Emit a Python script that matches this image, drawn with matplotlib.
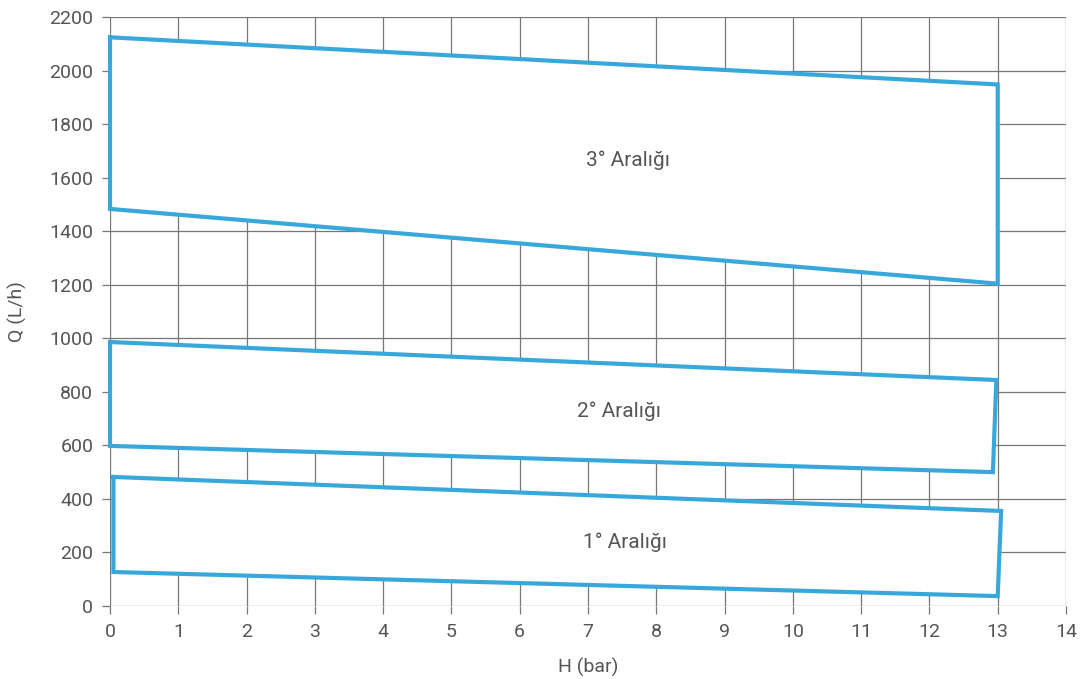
import numpy as np
import matplotlib.pyplot as plt

plt.rcParams['font.family'] = ['Roboto', 'DejaVu Sans']

# corner points of each range (H in bar, Q in L/h), clockwise from top-left
r1_h = [0.05, 13.05, 13.0, 0.05, 0.05]
r1_q = [482, 355, 37, 127, 482]
r2_h = [0.0, 12.98, 12.93, 0.0, 0.0]
r2_q = [986, 844, 500, 598, 986]
r3_h = [0.0, 13.0, 13.0, 0.0, 0.0]
r3_q = [2124, 1948, 1204, 1483, 2124]

labels = ['1° Aralığı', '2° Aralığı', '3° Aralığı']
label_pos = [(7.54, 239), (7.45, 728), (7.58, 1666)]

xticks = list(range(0, 15))
yticks = list(range(0, 2201, 200))

fig = plt.figure(figsize=(10.82, 6.79), dpi=100)
ax = fig.add_axes([0.1017, 0.1075, 0.8835, 0.8675])

col = '#38a8dc'
for h, q in [(r1_h, r1_q), (r2_h, r2_q), (r3_h, r3_q)]:
    ax.fill(h, q, facecolor='white', edgecolor='none', zorder=2)
    ax.plot(h, q, color=col, lw=3, solid_joinstyle='miter', zorder=3, clip_on=False)

for t, (x, y) in zip(labels, label_pos):
    ax.text(x, y, t, ha='center', va='center', fontsize=15, color='#555555', zorder=4)

ax.set_xlim(0, 14)
ax.set_ylim(0, 2200)
ax.set_xticks(xticks)
ax.set_yticks(yticks)
ax.grid(True, color='#777777', lw=0.9, zorder=0)
ax.set_axisbelow(True)
for s in ax.spines.values():
    s.set_visible(False)
ax.tick_params(colors='#777777', labelcolor='#555555', labelsize=14, length=6, width=0.9, pad=6)
ax.set_xlabel('H (bar)', fontsize=14, color='#555555', labelpad=12)
ax.set_ylabel('Q (L/h)', fontsize=14, color='#555555', labelpad=16)

fig.savefig('out.png', dpi=100)
